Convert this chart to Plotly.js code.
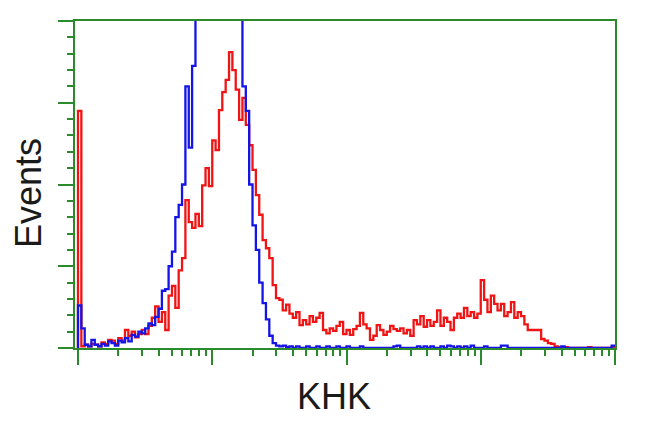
<!DOCTYPE html>
<html>
<head>
<meta charset="utf-8">
<script src="https://cdn.plot.ly/plotly-3.0.1.min.js"></script>
<style>html,body{margin:0;padding:0;background:#fff}#chart{width:650px;height:431px}</style>
</head>
<body>
<div id="chart"></div>
<script>
// Histogram counts per log channel (160 channels over 4 decades)
const redCounts = [
  290,2,4,2,5,4,2,7,5,10,
  9,5,12,9,22,15,20,13,17,22,
  17,27,37,51,32,44,22,64,76,49,
  95,110,181,154,147,164,149,199,220,198,
  254,242,291,313,328,362,340,316,279,306,
  273,248,218,187,163,132,122,110,77,61,
  59,46,53,42,37,44,28,34,29,39,
  32,37,43,22,18,24,21,27,32,17,
  22,16,23,27,43,29,24,10,15,28,
  22,16,20,27,23,21,24,18,22,15,
  34,29,39,26,34,27,32,46,27,37,
  32,22,37,42,37,49,39,44,37,42,
  83,59,44,64,54,46,54,39,44,56,
  37,44,39,29,22,22,22,22,11,9,
  6,5,2,1,0,1,0,0,0,0,
  0,0,1,0,0,0,0,0,0,1
];
const blueCounts = [
  52,24,4,2,10,4,2,5,3,8,
  6,3,9,7,12,8,16,14,20,18,
  24,30,28,38,48,70,72,100,118,160,
  175,200,320,245,345,470,520,560,590,610,
  620,600,580,560,540,510,480,440,420,320,
  290,200,150,120,80,55,35,15,6,3,
  2,3,1,2,0,2,0,0,2,0,
  0,2,0,0,2,0,0,2,0,0,
  2,0,0,0,2,0,0,0,0,0,
  0,0,0,0,2,3,0,0,0,0,
  0,2,0,2,0,2,0,0,2,0,
  3,2,0,2,0,2,0,3,0,0,
  0,2,0,0,0,0,3,3,0,0,
  0,0,0,0,0,0,0,0,0,0,
  0,0,0,0,2,0,0,0,0,0,
  0,0,0,0,0,0,0,0,0,3
];
const decades = 4;
const xTitle = 'KHK';
const yTitle = 'Events';

const nCh = redCounts.length;
const edges = Array.from({length: nCh + 1}, (_, i) => Math.pow(10, i * decades / nCh));

function stepTrace(counts, color) {
  const x = [edges[0]].concat(edges);
  const y = [0].concat(counts).concat([counts[counts.length - 1]]);
  return {
    x: x, y: y, type: 'scatter', mode: 'lines',
    line: {shape: 'hv', color: color, width: 2.3},
    hoverinfo: 'skip', showlegend: false
  };
}

const green = '#2b8a2b';
const data = [stepTrace(redCounts, '#f01414'), stepTrace(blueCounts, '#1414e6')];

const layout = {
  width: 650, height: 431,
  margin: {l: 75, r: 35, t: 21, b: 83, pad: 0},
  paper_bgcolor: '#ffffff', plot_bgcolor: '#ffffff',
  showlegend: false,
  xaxis: {
    type: 'log', range: [-0.0223, 4], dtick: 1,
    showgrid: false, zeroline: false, showticklabels: false,
    ticks: 'outside', ticklen: 15, tickwidth: 2, tickcolor: green,
    showline: true, linecolor: green, linewidth: 2, mirror: true,
    minor: {ticks: 'outside', dtick: 'D1', ticklen: 6, tickwidth: 2, tickcolor: green, showgrid: false}
  },
  yaxis: {
    range: [0, 400], dtick: 100,
    showgrid: false, zeroline: false, showticklabels: false,
    ticks: 'outside', ticklen: 15, tickwidth: 2, tickcolor: green,
    showline: true, linecolor: green, linewidth: 2, mirror: true,
    minor: {ticks: 'outside', dtick: 20, ticklen: 6, tickwidth: 2, tickcolor: green, showgrid: false}
  },
  annotations: [
    {text: xTitle, xref: 'paper', yref: 'paper', x: 0.48, y: -0.147,
     xanchor: 'center', yanchor: 'middle', showarrow: false,
     font: {family: 'Liberation Sans, Arial, sans-serif', size: 36, color: '#1a1a1a'}},
    {text: yTitle, xref: 'paper', yref: 'paper', x: -0.087, y: 0.474, textangle: -90,
     xanchor: 'center', yanchor: 'middle', showarrow: false,
     font: {family: 'Liberation Sans, Arial, sans-serif', size: 36, color: '#1a1a1a'}}
  ]
};

Plotly.newPlot('chart', data, layout, {staticPlot: true, displayModeBar: false});
</script>
</body>
</html>
